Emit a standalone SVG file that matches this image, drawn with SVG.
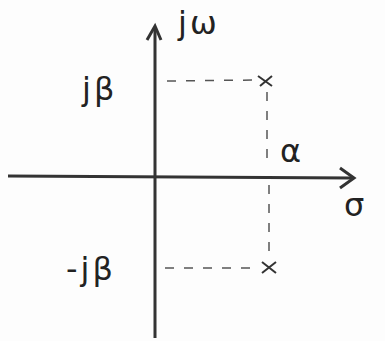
<svg xmlns="http://www.w3.org/2000/svg" width="385" height="341" viewBox="0 0 385 341">
<style>
.ax{stroke:#333;stroke-width:3;fill:none}
.dash{stroke:#555;stroke-width:1.5;stroke-dasharray:9 10;fill:none}
.lbl{font-family:"DejaVu Sans",sans-serif;font-size:32px;fill:#222;letter-spacing:3px}
.pole{stroke:#333;stroke-width:2;fill:none}
</style>
<rect width="385" height="341" fill="#fdfdfd"/>
<g id="connectors">
<path class="ax" d="M155,338 L155,28"/>
<path class="ax" d="M147,40 L155,26 L161,40"/>
<path class="ax" d="M8,176 L352,178"/>
<path class="ax" d="M340,168 L354,178 L340,188"/>
<path class="dash" d="M167,81 L258,80"/>
<path class="dash" d="M267,92 L267,165 M269,185 L269,258"/>
<path class="dash" d="M165,268 L255,268"/>
</g>
<g id="pole-upper"><path class="pole" d="M258,76 L272,86 M260,86 L272,76"/></g>
<g id="pole-lower"><path class="pole" d="M262,262 L276,273 M262,273 L276,262"/></g>
<g id="label-jw"><text class="lbl" x="178" y="34">jω</text></g>
<g id="label-jb"><text class="lbl" x="82" y="100">jβ</text></g>
<g id="label-njb"><text class="lbl" x="66" y="280">-jβ</text></g>
<g id="label-alpha"><text class="lbl" x="280" y="162">α</text></g>
<g id="label-sigma"><text class="lbl" x="344" y="216">σ</text></g>
</svg>
